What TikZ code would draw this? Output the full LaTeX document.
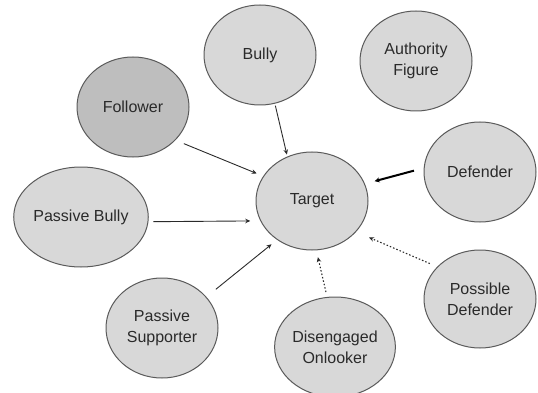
\documentclass[tikz,border=0pt]{standalone}
\usepackage{fontspec}
\setmainfont{Liberation Sans}
\usetikzlibrary{shapes.geometric,arrows.meta}
\definecolor{ellfill}{HTML}{D8D8D8}
\definecolor{follfill}{HTML}{BEBEBE}
\definecolor{ellline}{HTML}{5A5A5A}
\definecolor{txt}{HTML}{2A2A2A}
\tikzset{
  role/.style={ellipse, draw=ellline, line width=1pt, fill=ellfill, minimum width=112pt, minimum height=100pt, inner sep=0pt, align=center, text=txt, font=\fontsize{16}{21}\selectfont},
  arr/.style={draw=txt, line width=0.9pt, -{Stealth[length=5pt,width=4.5pt]}},
  thickarr/.style={draw=black, line width=2pt, -{Stealth[length=5pt,width=5pt]}},
  dotarr/.style={draw=txt, line width=1.1pt, dash pattern=on 1.5pt off 2pt, -{Stealth[length=5pt,width=4.5pt]}}
}
\begin{document}
\begin{tikzpicture}[x=1pt,y=-1pt]
\useasboundingbox (0,0) rectangle (538,393);
\node[role, fill=follfill] (follower) at (133,107) {Follower};
\node[role] (bully) at (260,55) {Bully};
\node[role] (authority) at (416,61) {Authority\\Figure};
\node[role] (defender) at (480,172) {Defender};
\node[role, minimum height=98pt] (target) at (312,201) {Target};
\node[role] (pbully) at (81,217) {Passive Bully};
\node[role] (psupporter) at (162,328) {Passive\\Supporter};
\node[role] (onlooker) at (335,347) {Disengaged\\Onlooker};
\node[role, minimum height=98pt] (pdefender) at (480,299) {Possible\\Defender};
\draw[arr, shorten <=9pt, shorten >=7pt] (follower.-38) -- (target.153);
\draw[arr, shorten <=2pt, shorten >=2pt] (bully.-73) -- (target.119);
\draw[thickarr, shorten <=10pt, shorten >=10pt] (defender.176) -- (target.18);
\draw[arr, shorten <=5pt, shorten >=10pt] (pbully.-4) -- (target.201);
\draw[arr, shorten <=12pt, shorten >=7pt] (psupporter.35) -- (target.228);
\draw[dotarr, shorten <=5pt, shorten >=7pt] (onlooker.99) -- (target.-85);
\draw[dotarr, shorten <=8pt, shorten >=14pt] (pdefender.143) -- (target.-35);
\end{tikzpicture}
\end{document}
